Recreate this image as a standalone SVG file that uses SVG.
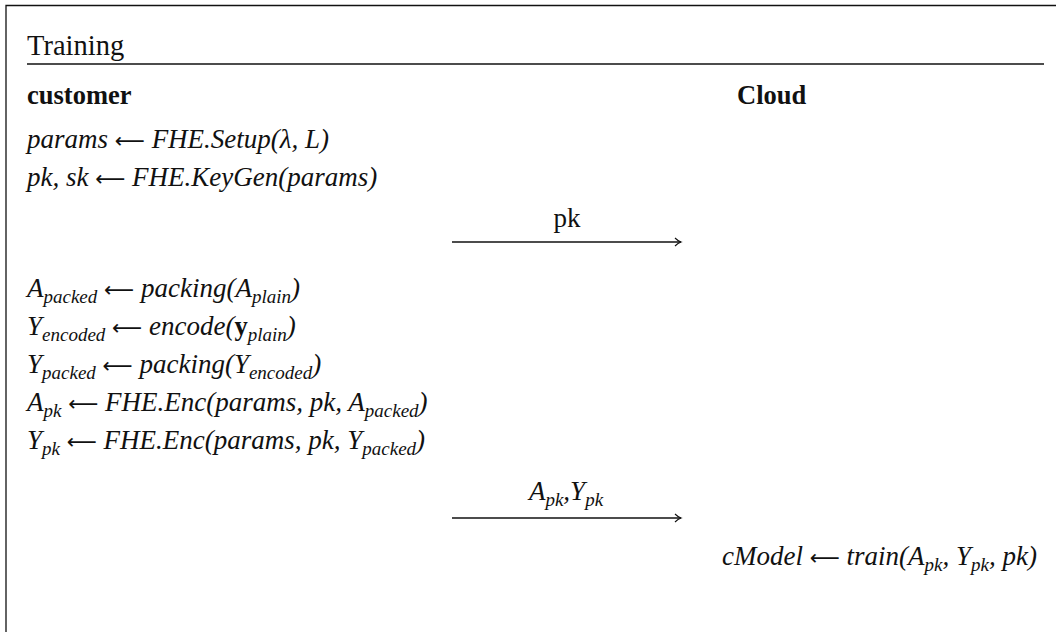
<svg xmlns="http://www.w3.org/2000/svg" width="1056" height="632" viewBox="0 0 1056 632">
<style>
text{font-family:"Liberation Serif","DejaVu Serif",serif;font-size:27px;fill:#111}
.h{font-size:28.5px}
.b{font-weight:bold;font-size:26.5px}
.m{font-style:italic}
.s{font-size:19px}
.up{font-style:normal}
.ar{font-family:"DejaVu Sans",sans-serif;font-style:normal;font-size:21px}
.ln{stroke:#111;stroke-width:1.3;fill:none}
</style>
<defs>
<marker id="ah" markerWidth="12" markerHeight="12" refX="9" refY="5" orient="auto" markerUnits="userSpaceOnUse">
<path d="M3,1 Q6,4 9,5 Q6,6 3,9" fill="none" stroke="#111" stroke-width="1.1"/>
</marker>
</defs>
<rect width="1056" height="632" fill="#fff"/>
<g id="frame">
<path class="ln" d="M6,632 V5.5 H1056" stroke-width="1.5"/>
<line class="ln" x1="27" y1="64" x2="1044" y2="64"/>
<text class="h" x="27" y="55">Training</text>
</g>
<g id="customer">
<text class="b" x="27" y="104">customer</text>
<text class="m" x="27" y="148">params <tspan class="ar">⟵</tspan> FHE.Setup(λ, L)</text>
<text class="m" x="27" y="186">pk, sk <tspan class="ar">⟵</tspan> FHE.KeyGen(params)</text>
<text class="m" x="27" y="297">A<tspan class="s" dy="6">packed</tspan><tspan dy="-6"> <tspan class="ar">⟵</tspan> packing(A</tspan><tspan class="s" dy="6">plain</tspan><tspan dy="-6">)</tspan></text>
<text class="m" x="27" y="335">Y<tspan class="s" dy="6">encoded</tspan><tspan dy="-6"> <tspan class="ar">⟵</tspan> encode(</tspan><tspan class="up b">y</tspan><tspan class="s" dy="6">plain</tspan><tspan dy="-6">)</tspan></text>
<text class="m" x="27" y="373">Y<tspan class="s" dy="6">packed</tspan><tspan dy="-6"> <tspan class="ar">⟵</tspan> packing(Y</tspan><tspan class="s" dy="6">encoded</tspan><tspan dy="-6">)</tspan></text>
<text class="m" x="27" y="411">A<tspan class="s" dy="6">pk</tspan><tspan dy="-6"> <tspan class="ar">⟵</tspan> FHE.Enc(params, pk, A</tspan><tspan class="s" dy="6">packed</tspan><tspan dy="-6">)</tspan></text>
<text class="m" x="27" y="449">Y<tspan class="s" dy="6">pk</tspan><tspan dy="-6"> <tspan class="ar">⟵</tspan> FHE.Enc(params, pk, Y</tspan><tspan class="s" dy="6">packed</tspan><tspan dy="-6">)</tspan></text>
</g>
<g id="cloud">
<text class="b" x="737" y="104">Cloud</text>
<text class="m" x="722" y="565">cModel <tspan class="ar">⟵</tspan> train(A<tspan class="s" dy="6">pk</tspan><tspan dy="-6">, Y</tspan><tspan class="s" dy="6">pk</tspan><tspan dy="-6">, pk)</tspan></text>
</g>
<g id="connectors">
<line class="ln" x1="452" y1="242" x2="681" y2="242" marker-end="url(#ah)"/>
<text x="567" y="227" text-anchor="middle">pk</text>
<line class="ln" x1="452" y1="518" x2="681" y2="518" marker-end="url(#ah)"/>
<text class="m" x="566" y="500" text-anchor="middle">A<tspan class="s" dy="6">pk</tspan><tspan dy="-6">,Y</tspan><tspan class="s" dy="6">pk</tspan></text>
</g>
</svg>
